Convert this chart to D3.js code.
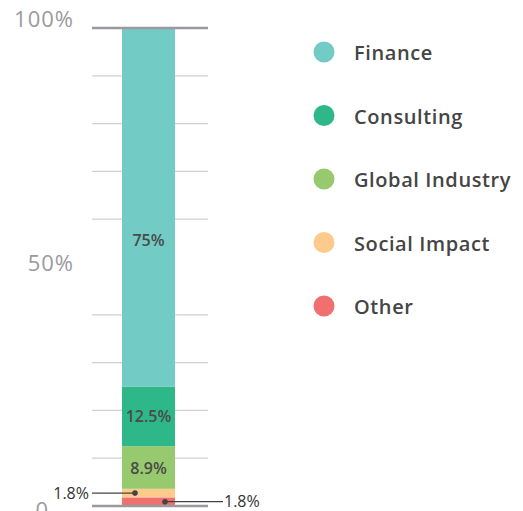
<!DOCTYPE html>
<html><head><meta charset="utf-8">
<script src="https://cdn.jsdelivr.net/npm/d3@7"></script>
<style>
body{margin:0;background:#fff;}
svg{display:block;font-family:"Open Sans",sans-serif;}
</style></head>
<body><svg id="chart" width="523" height="511"></svg>
<script>
const categories = ["Finance","Consulting","Global Industry","Social Impact","Other"];
const values = [75, 12.5, 8.9, 1.8, 1.8];
const colors = ["#72CBC4","#2EB88A","#97CA6E","#FECB8C","#F07070"];
const labels = ["75%","12.5%","8.9%","1.8%","1.8%"];
const yTicks = [0, 50, 100];
const yTickLabels = ["0","50%","100%"];
const gridTicks = [10,20,30,40,60,70,80,90];

const svg = d3.select("#chart");
const y = d3.scaleLinear().domain([0,100]).range([506,28]);
const x0 = 92, x1 = 208, barL = 122, barR = 175;

const order = [4,3,2,1,0];
let acc = 0;
const segs = order.map(i => { const s = {i, y0: acc, y1: acc + values[i]}; acc += values[i]; return s; });

svg.append("g").selectAll("line").data(gridTicks).join("line")
  .attr("x1",x0).attr("x2",x1).attr("y1",d=>y(d)).attr("y2",d=>y(d))
  .attr("stroke","#d0d0d0").attr("stroke-width",1.2);

svg.append("g").selectAll("rect").data(segs).join("rect")
  .attr("x",barL).attr("width",barR-barL)
  .attr("y",d=>y(d.y1)).attr("height",d=>y(d.y0)-y(d.y1))
  .attr("fill",d=>colors[d.i]);

svg.append("g").selectAll("line").data([0,100]).join("line")
  .attr("x1",x0).attr("x2",x1).attr("y1",d=>y(d)).attr("y2",d=>y(d))
  .attr("stroke","#9a9a9e").attr("stroke-width",2.5);

const tickOffset = {0: 12, 50: 4, 100: -1};
svg.append("g").selectAll("text").data(yTicks).join("text")
  .attr("x",d=> d===0 ? 49 : 74).attr("y",d=>y(d)+tickOffset[d])
  .attr("text-anchor","end").attr("fill","#9a9a9e")
  .style("font-size","22px").style("letter-spacing","1px").text((d,i)=>yTickLabels[i]);

const labelAnchor = {0: 55.7};
svg.append("g").selectAll("text").data(segs.filter(s=>values[s.i]>5)).join("text")
  .attr("x",(barL+barR)/2)
  .attr("y",d=> y(labelAnchor[d.i] !== undefined ? labelAnchor[d.i] : (d.y0+d.y1)/2) + 6)
  .attr("text-anchor","middle").attr("fill","#4a4a4a")
  .style("font-size","16px").style("font-weight","600")
  .text(d=>labels[d.i]);

const small = segs.filter(s=>values[s.i]<5);
small.forEach(s => {
  const cy = y((s.y0+s.y1)/2);
  const left = s.i === 3;
  const dotX = left ? 135 : 165;
  const lineEnd = left ? 92 : 223;
  svg.append("line").attr("x1",dotX).attr("x2",lineEnd).attr("y1",cy).attr("y2",cy)
    .attr("stroke","#444").attr("stroke-width",1.3);
  svg.append("circle").attr("cx",dotX).attr("cy",cy).attr("r",2.8).attr("fill","#444");
  svg.append("text").attr("x", left ? 89 : 224).attr("y",cy+5.5)
    .attr("text-anchor", left ? "end" : "start").attr("fill","#333")
    .style("font-size","16px").text(labels[s.i]);
});

const lg = svg.append("g").selectAll("g").data(categories).join("g")
  .attr("transform",(d,i)=>`translate(324,${52 + i*63.5})`);
lg.append("circle").attr("r",10.5).attr("fill",(d,i)=>colors[i]);
lg.append("text").attr("x",30).attr("y",8).attr("fill","#454545")
  .style("font-size","20px").style("font-weight","600").style("letter-spacing","0.6px").text(d=>d);
</script></body></html>
